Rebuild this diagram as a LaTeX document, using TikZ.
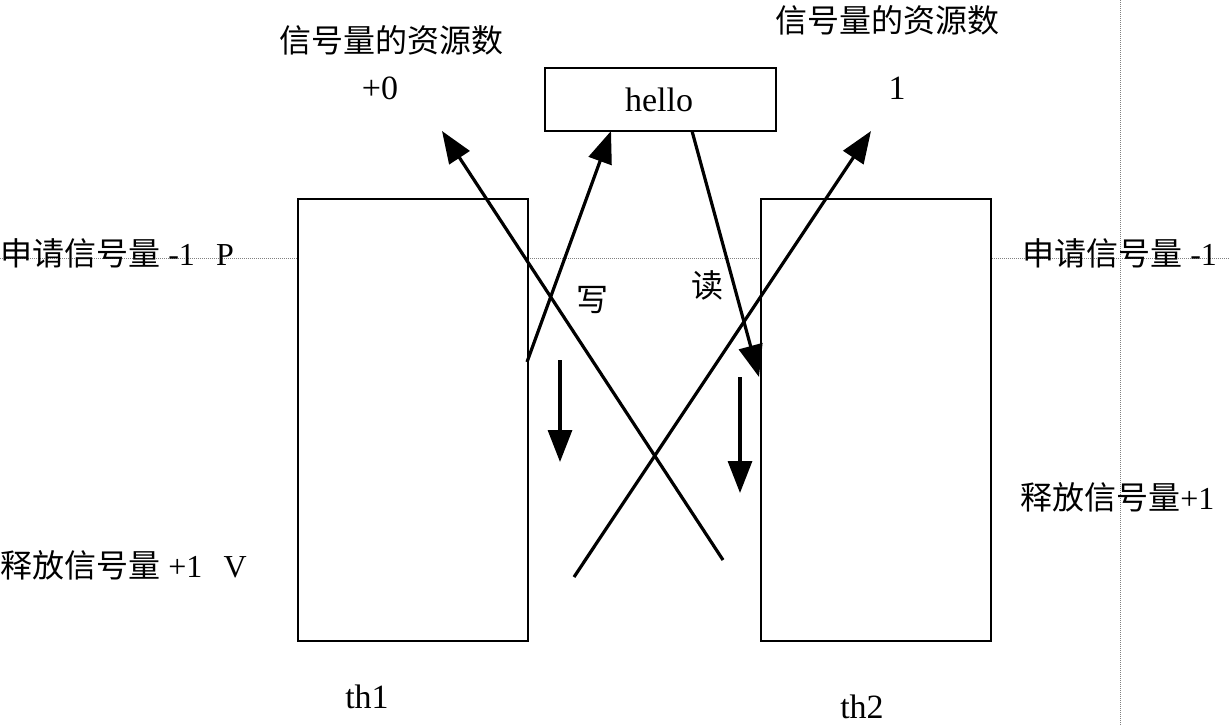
\documentclass[tikz,border=0pt]{standalone}
\usepackage{fontspec}
\setmainfont{Liberation Serif}
\newfontfamily\cjk{Noto Sans CJK SC}
\usetikzlibrary{arrows.meta}
\begin{document}
\begin{tikzpicture}[x=0.75pt,y=-0.75pt,
  box/.style={draw,line width=1.4pt,fill=white,inner sep=0pt,anchor=north west},
  arr/.style={line width=2.4pt,-{Triangle[length=24pt,width=18pt]}},
  guide/.style={densely dotted,gray,line width=0.5pt},
  lbl/.style={inner sep=0pt,font=\fontsize{24}{28}\selectfont},
  lat/.style={inner sep=0pt,font=\fontsize{25.5}{30}\selectfont}]
\useasboundingbox (0,0) rectangle (1230,725);
% guide lines
\coordinate (hl) at (0,258);
\coordinate (hr) at (1230,258);
\coordinate (vt) at (1120,0);
\coordinate (vb) at (1120,725);
\draw[guide] (hl) -- (hr);
\draw[guide] (vt) -- (vb);
% boxes
\node[box,minimum width=172.5pt,minimum height=331.5pt] (th1box) at (297,198) {};
\node[box,minimum width=172.5pt,minimum height=331.5pt] (th2box) at (760,198) {};
\node[box,minimum width=173.25pt,minimum height=47.25pt] (hello) at (544,67) {};
\node[lat] (hellot) at (659,100) {hello};
% labels
\node[lbl] (resL) at (391,40) {\cjk 信号量的资源数};
\node[lat] (valL) at (380,88) {+0};
\node[lbl] (resR) at (887,20) {\cjk 信号量的资源数};
\node[lat] (valR) at (897,88) {1};
\node[lbl,anchor=west] (pL) at (0,253) {{\cjk 申请信号量} -1\ \ \,P};
\node[lbl,anchor=west] (pR) at (1022,253) {{\cjk 申请信号量} -1};
\node[lbl,anchor=west] (vL) at (0,565) {{\cjk 释放信号量} +1\ \ \,V};
\node[lbl,anchor=west] (vR) at (1020,497) {{\cjk 释放信号量}+1};
\node[lbl] (write) at (592,300) {\cjk 写};
\node[lbl] (read) at (707,285) {\cjk 读};
\node[lat] (th1) at (367,697) {th1};
\node[lat] (th2) at (862,707) {th2};
% arrow endpoints
\coordinate (w0) at (527,362);
\coordinate (w1) at (611,131);
\coordinate (x0) at (723,560);
\coordinate (x1) at (442,131);
\coordinate (y0) at (574,577);
\coordinate (y1) at (871,131);
\coordinate (r0) at (692,131);
\coordinate (r1) at (759,377);
\coordinate (d0) at (560,360);
\coordinate (d1) at (560,462);
\coordinate (e0) at (740,377);
\coordinate (e1) at (740,493);
\draw[arr] (w0) -- (w1);
\draw[arr] (x0) -- (x1);
\draw[arr] (y0) -- (y1);
\draw[arr] (r0) -- (r1);
\draw[arr] (d0) -- (d1);
\draw[arr] (e0) -- (e1);
\end{tikzpicture}
\end{document}
